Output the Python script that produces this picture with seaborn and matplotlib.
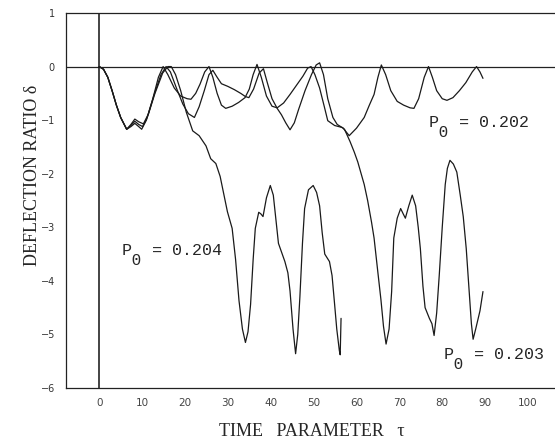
import matplotlib
matplotlib.use("Agg")
import matplotlib.pyplot as plt
import numpy as np
import pandas as pd
import seaborn as sns

# ---- data ----
tau_202 = [0, 1, 2, 3, 4, 5, 6.4, 7.4, 8.3, 9.2, 9.9, 11, 12.5, 13.8, 14.9, 16, 17.5, 19, 20.5,
           21.4, 22.5, 23.5, 24.6, 25.6, 26.5, 27.5, 28.5, 29.5, 31, 32.5, 34, 35, 35.9, 36.8,
           37.8, 39, 40.3, 41.5, 43, 44.5, 46, 47.5, 48.6, 49.4, 50.3, 51.4, 52.5, 53.3, 54.9,
           56.8, 58.3, 60, 61.8, 63, 64.1, 65, 65.8, 66.8, 68, 69.5, 71, 72.5, 73.4, 74.5, 75.8,
           76.8, 77.7, 78.7, 80, 81.1, 82.5, 84, 85.5, 87, 88, 88.8, 89.5]
delta_202 = [0, -0.05, -0.2, -0.45, -0.72, -0.95, -1.17, -1.12, -1.06, -1.12, -1.17, -1.0, -0.6,
             -0.2, 0.0, -0.15, -0.4, -0.55, -0.6, -0.61, -0.5, -0.33, -0.1, 0.0, -0.2, -0.5,
             -0.72, -0.78, -0.74, -0.67, -0.58, -0.42, -0.15, 0.04, -0.2, -0.55, -0.74, -0.77,
             -0.68, -0.52, -0.35, -0.18, -0.03, 0.0, -0.15, -0.4, -0.75, -1.01, -1.1, -1.14,
             -1.29, -1.15, -0.95, -0.72, -0.52, -0.2, 0.03, -0.15, -0.45, -0.65, -0.72, -0.77,
             -0.78, -0.6, -0.2, 0.0, -0.2, -0.45, -0.6, -0.63, -0.58, -0.45, -0.3, -0.1, 0.0,
             -0.1, -0.22]

tau_203 = [0, 1, 2, 3, 4, 5, 6.4, 7.4, 8.3, 9.2, 10.1, 11.2, 12.7, 14.4, 15.6, 16.6, 18, 19.5,
           20.8, 22.2, 23.3, 24.5, 25.6, 26.5, 27.5, 28.5, 30, 31.5, 33, 34.1, 34.9, 36, 37.3,
           38.3, 39.2, 40.3, 41.5, 42.5, 43.5, 44.5, 45.5, 46.5, 48, 49.5, 50.6, 51.4, 52.3,
           53.3, 54.5, 55.5, 56.5, 57.2, 58.5, 59.5, 60.3, 61.8, 62.6, 63.5, 64.1, 65, 65.7,
           66.3, 66.9, 67.6, 68.2, 68.7, 69.5, 70.3, 70.9, 71.4, 72.2, 73.0, 73.8, 74.4, 74.9,
           75.5, 76.0, 77.0, 77.6, 78.1, 78.7, 79.3, 80.0, 80.7, 81.2, 81.8, 82.6, 83.4, 84.2,
           84.9, 85.6, 86.2, 86.8, 87.2, 87.8, 88.8, 89.5]
delta_203 = [0, -0.05, -0.2, -0.45, -0.72, -0.95, -1.17, -1.1, -1.02, -1.08, -1.12, -0.95, -0.55,
             -0.15, 0.0, -0.1, -0.4, -0.7, -0.88, -0.95, -0.75, -0.45, -0.15, -0.07, -0.2, -0.32,
             -0.37, -0.43, -0.5, -0.56, -0.58, -0.42, -0.12, -0.04, -0.3, -0.6, -0.78, -0.9,
             -1.05, -1.18, -1.05, -0.8, -0.45, -0.15, 0.03, 0.07, -0.15, -0.6, -0.95, -1.08,
             -1.13, -1.17, -1.4, -1.6, -1.78, -2.2, -2.5, -2.9, -3.2, -3.85, -4.35, -4.85, -5.18,
             -4.9, -4.2, -3.2, -2.83, -2.65, -2.75, -2.83, -2.6, -2.4, -2.6, -3.0, -3.4, -4.1,
             -4.5, -4.7, -4.8, -5.02, -4.6, -3.9, -3.0, -2.2, -1.9, -1.75, -1.82, -1.97, -2.4,
             -2.8, -3.4, -4.1, -4.8, -5.09, -4.9, -4.56, -4.2]

tau_204 = [0, 1, 2, 3, 4, 5, 6.4, 7.4, 8.3, 9.2, 10.3, 11.5, 13, 14.8, 16, 16.8, 17.8, 19, 20.3,
           21.8, 23.3, 24.9, 26, 27.2, 28.2, 29.1, 29.9, 31, 31.8, 32.6, 33.4, 34.1, 34.7, 35.3,
           35.9, 36.4, 37.2, 37.7, 38.2, 39.0, 39.9, 40.6, 41.2, 41.8, 43.3, 44.0, 44.5, 45.2,
           45.8, 46.3, 46.8, 47.4, 47.9, 48.8, 49.9, 50.7, 51.4, 52.0, 52.6, 53.7, 54.3, 54.9,
           55.4, 56.0, 56.2, 56.4]
delta_204 = [0, -0.05, -0.2, -0.45, -0.72, -0.95, -1.17, -1.08, -0.98, -1.03, -1.07, -0.88, -0.5,
             -0.12, 0.0, 0.0, -0.15, -0.45, -0.85, -1.2, -1.29, -1.48, -1.72, -1.81, -2.05, -2.4,
             -2.71, -3.02, -3.6, -4.37, -4.9, -5.15, -4.95, -4.44, -3.6, -3.02, -2.72, -2.75,
             -2.8, -2.45, -2.22, -2.4, -2.85, -3.3, -3.64, -3.85, -4.19, -4.9, -5.36, -5.0, -4.3,
             -3.3, -2.65, -2.3, -2.22, -2.35, -2.6, -3.1, -3.5, -3.64, -3.9, -4.44, -4.9, -5.3,
             -5.38, -4.7]

series_names = ["0.202", "0.203", "0.204"]
x_ticks = [0, 10, 20, 30, 40, 50, 60, 70, 80, 90, 100]
y_ticks = [1, 0, -1, -2, -3, -4, -5, -6]
x_label = "TIME   PARAMETER   τ"
y_label = "DEFLECTION RATIO δ"

df = pd.concat([
    pd.DataFrame({"tau": tau_202, "delta": delta_202, "P0": series_names[0]}),
    pd.DataFrame({"tau": tau_203, "delta": delta_203, "P0": series_names[1]}),
    pd.DataFrame({"tau": tau_204, "delta": delta_204, "P0": series_names[2]}),
], ignore_index=True)

sns.set_style("white")
plt.rcParams["font.family"] = ["DejaVu Sans"]

fig = plt.figure(figsize=(5.55, 4.41), dpi=100)
ax = fig.add_axes([66 / 555, 1 - 388 / 441, (555 - 66) / 555, (388 - 13) / 441])

sns.lineplot(data=df, x="tau", y="delta", hue="P0", units="P0", estimator=None, sort=False,
             palette={n: "#1a1a1a" for n in series_names}, linewidth=0.9, legend=False, ax=ax)

ax.axhline(0, color="#222222", lw=0.9, zorder=1)
ax.axvline(0, color="#111111", lw=1.1, zorder=1)

ax.set_xlim(-7.75, 106.3)
ax.set_ylim(-6, 1)
ax.set_xticks(x_ticks)
ax.set_yticks(y_ticks)
ax.set_xticklabels([str(t) for t in x_ticks])
ax.set_yticklabels([("\u2212" + str(-t)) if t < 0 else str(t) for t in y_ticks])
ax.tick_params(axis="y", direction="in", length=7, width=0.8, pad=8, labelsize=7,
               labelcolor="#333333", color="#222222")
ax.tick_params(axis="x", direction="in", length=4, width=0.8, pad=7, labelsize=7.5,
               labelcolor="#444444", color="#444444")
ax.set_xlabel("")
ax.set_ylabel("")
for side in ["left", "bottom", "top"]:
    ax.spines[side].set_color("#222222")
    ax.spines[side].set_linewidth(0.9)
ax.spines["right"].set_visible(False)

fig.text(312 / 555, 1 - 432 / 441, x_label, ha="center", va="center",
         family="Liberation Serif", fontsize=13)
fig.text(33 / 555, 1 - 175 / 441, y_label, ha="center", va="center", rotation=90,
         family="Liberation Serif", fontsize=13)

mono = "Liberation Mono"
labels = [("0.202", 77.0, -1.13), ("0.204", 5.4, -3.52), ("0.203", 80.3, -5.46)]
for val, lx, ly in labels:
    ax.text(lx, ly, "P  = " + val, family=mono, fontsize=12, ha="left", va="baseline")
    ax.text(lx, ly - 0.19, " 0", family=mono, fontsize=11.5, ha="left", va="baseline")

fig.savefig("out.png", dpi=100)
